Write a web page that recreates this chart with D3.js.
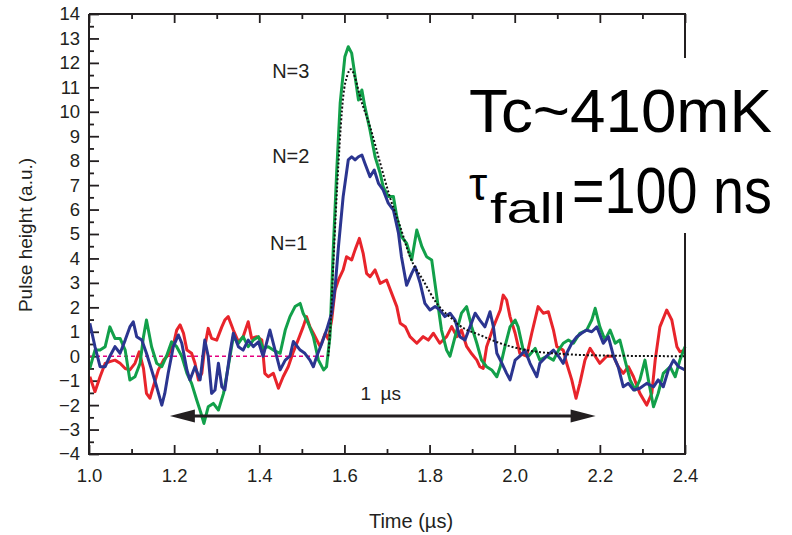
<!DOCTYPE html>
<html>
<head>
<meta charset="utf-8">
<script src="https://cdn.jsdelivr.net/npm/d3@7"></script>
<style>
  html, body { margin: 0; padding: 0; background: #fff; }
  svg { display: block; font-family: "Liberation Sans", Arial, Helvetica, sans-serif; }
</style>
</head>
<body>
<svg id="chart" width="792" height="535"></svg>
<script>
// Pulse traces: [time (µs), pulse height (a.u.)]
const traceN1 = [
  [1.002,-0.84],[1.014,-1.45],[1.026,-0.84],[1.038,-0.29],[1.049,-0.22],[1.061,-0.16],[1.073,-0.29],
  [1.085,-0.50],[1.096,-0.56],[1.108,-0.29],[1.118,0.18],[1.128,-0.50],[1.135,-1.52],[1.143,-1.72],
  [1.151,-1.25],[1.163,-0.56],[1.175,-0.16],[1.186,0.05],[1.198,0.46],[1.206,1.07],[1.214,1.28],
  [1.222,0.94],[1.230,0.25],[1.241,0.12],[1.249,-0.29],[1.257,-0.97],[1.265,-0.70],[1.272,0.39],
  [1.280,1.14],[1.288,0.73],[1.300,0.66],[1.312,1.20],[1.319,1.48],[1.327,1.62],[1.339,1.07],
  [1.351,0.59],[1.362,0.80],[1.374,1.41],[1.382,0.73],[1.394,0.80],[1.406,0.66],[1.413,-0.70],
  [1.421,-0.84],[1.433,-0.70],[1.445,-1.31],[1.456,-0.84],[1.468,-0.43],[1.480,0.18],[1.492,0.70],
  [1.503,1.20],[1.511,1.62],[1.519,1.20],[1.527,0.94],[1.543,0.39],[1.555,0.94],[1.562,0.70],
  [1.570,1.48],[1.578,2.71],[1.586,3.12],[1.597,3.53],[1.605,4.07],[1.617,3.94],[1.625,4.35],
  [1.635,4.82],[1.644,4.21],[1.652,3.39],[1.660,3.25],[1.672,3.53],[1.684,2.98],[1.699,3.12],
  [1.711,2.57],[1.723,2.03],[1.731,1.35],[1.743,1.21],[1.754,0.80],[1.770,0.53],[1.785,0.80],
  [1.797,0.66],[1.809,0.94],[1.824,0.53],[1.840,0.80],[1.852,1.21],[1.864,0.80],[1.875,1.07],
  [1.887,0.40],[1.899,0.10],[1.911,-0.16],[1.918,-0.43],[1.926,-0.50],[1.934,0.39],[1.950,1.20],
  [1.966,1.89],[1.973,2.50],[1.981,2.30],[1.989,1.62],[2.001,0.94],[2.012,0.12],[2.028,0.00],
  [2.040,0.94],[2.055,2.03],[2.067,1.76],[2.079,1.82],[2.091,1.07],[2.099,0.39],[2.114,0.25],
  [2.122,-0.29],[2.134,-0.97],[2.144,-1.72],[2.153,-1.11],[2.165,-0.16],[2.177,0.32],[2.189,0.00],
  [2.200,-0.29],[2.216,0.00],[2.232,0.00],[2.243,-0.43],[2.255,-0.70],[2.267,-0.43],[2.279,-0.84],
  [2.294,-1.52],[2.310,-2.00],[2.322,-1.52],[2.330,-0.16],[2.341,1.20],[2.357,1.89],[2.369,1.48],
  [2.381,0.39],[2.388,0.18],[2.400,0.25]
];

const traceN3 = [
  [1.002,-0.50],[1.014,0.25],[1.026,0.25],[1.038,0.39],[1.049,1.20],[1.061,0.73],[1.073,0.73],
  [1.085,0.25],[1.096,-0.97],[1.108,-0.84],[1.120,-0.29],[1.128,0.80],[1.135,1.48],[1.147,0.39],
  [1.159,-0.29],[1.171,-0.43],[1.182,0.00],[1.194,0.59],[1.206,0.39],[1.218,0.00],[1.230,-0.70],
  [1.241,-1.11],[1.253,-1.79],[1.262,-2.27],[1.270,-2.75],[1.280,-2.07],[1.292,-1.93],[1.304,-2.20],
  [1.316,-1.52],[1.327,-0.43],[1.339,0.80],[1.351,0.53],[1.362,0.80],[1.374,0.39],[1.386,0.66],
  [1.398,0.80],[1.409,0.32],[1.421,0.39],[1.433,0.25],[1.449,0.12],[1.461,1.07],[1.472,1.62],
  [1.484,2.03],[1.496,2.16],[1.503,1.76],[1.515,1.35],[1.527,0.80],[1.539,-0.16],[1.551,-0.56],
  [1.558,-0.43],[1.566,0.80],[1.574,4.48],[1.582,7.62],[1.590,10.35],[1.601,12.25],[1.609,12.66],
  [1.617,12.40],[1.625,11.44],[1.633,10.48],[1.641,10.89],[1.648,10.21],[1.660,9.26],[1.672,8.16],
  [1.684,7.48],[1.691,6.94],[1.703,6.53],[1.715,6.53],[1.723,5.71],[1.734,4.89],[1.746,4.62],
  [1.758,3.94],[1.770,5.16],[1.782,4.48],[1.793,4.07],[1.805,3.94],[1.817,2.43],[1.828,1.07],
  [1.840,0.25],[1.848,0.00],[1.860,0.80],[1.875,1.76],[1.887,2.03],[1.899,1.20],[1.911,0.53],
  [1.922,-0.16],[1.934,-0.43],[1.946,-0.56],[1.958,-0.84],[1.966,-0.43],[1.977,0.39],[1.989,1.20],
  [2.001,1.48],[2.008,1.20],[2.020,0.25],[2.032,0.00],[2.048,0.32],[2.059,-0.16],[2.075,0.00],
  [2.091,-0.16],[2.103,0.25],[2.114,0.53],[2.126,0.66],[2.138,0.53],[2.153,0.94],[2.169,1.07],
  [2.181,1.48],[2.189,1.96],[2.200,1.20],[2.212,0.66],[2.224,1.07],[2.236,0.53],[2.247,0.66],
  [2.259,-0.16],[2.271,-0.97],[2.283,-1.38],[2.294,-0.97],[2.306,-0.16],[2.314,-0.97],[2.326,-2.07],
  [2.337,-1.52],[2.349,-0.70],[2.365,-0.43],[2.377,-0.84],[2.388,-0.16],[2.400,0.39]
];

const traceN2 = [
  [1.002,1.35],[1.014,0.39],[1.026,-0.43],[1.038,-0.43],[1.049,0.00],[1.061,0.39],[1.073,0.12],
  [1.085,0.66],[1.096,1.20],[1.104,1.41],[1.112,0.80],[1.124,0.66],[1.135,0.12],[1.147,-0.56],
  [1.159,-1.25],[1.171,-2.00],[1.178,-1.52],[1.186,-0.70],[1.198,0.39],[1.210,0.87],[1.218,0.53],
  [1.230,-0.56],[1.237,-0.97],[1.249,-0.43],[1.261,-0.97],[1.272,0.66],[1.280,0.00],[1.288,-1.52],
  [1.296,-1.38],[1.304,-0.29],[1.312,-1.25],[1.319,-1.38],[1.331,0.12],[1.339,0.94],[1.351,0.39],
  [1.362,0.25],[1.374,0.66],[1.386,0.39],[1.398,0.59],[1.409,0.00],[1.425,1.07],[1.437,0.25],
  [1.449,-0.56],[1.461,-0.16],[1.472,0.00],[1.480,0.60],[1.496,0.25],[1.507,0.12],[1.519,-0.16],
  [1.527,-0.43],[1.535,0.00],[1.547,0.53],[1.558,1.07],[1.570,1.76],[1.578,2.80],[1.586,4.48],
  [1.597,6.53],[1.609,8.03],[1.617,8.16],[1.625,8.03],[1.633,8.16],[1.641,8.23],[1.648,7.89],
  [1.660,7.34],[1.670,7.62],[1.680,7.07],[1.691,6.80],[1.703,6.26],[1.715,5.98],[1.727,5.03],
  [1.734,4.07],[1.746,2.90],[1.758,3.39],[1.766,3.66],[1.778,2.98],[1.789,2.16],[1.801,1.89],
  [1.813,2.03],[1.824,1.90],[1.836,1.62],[1.848,1.76],[1.860,1.48],[1.871,0.80],[1.883,0.66],
  [1.895,1.20],[1.907,1.76],[1.918,1.48],[1.930,1.20],[1.942,1.82],[1.950,1.20],[1.958,0.12],
  [1.970,-0.29],[1.981,-0.70],[1.989,-0.97],[2.001,-0.16],[2.012,0.00],[2.024,0.25],[2.036,-0.29],
  [2.052,-0.84],[2.059,-0.29],[2.075,0.00],[2.091,0.25],[2.103,0.00],[2.114,-0.29],[2.122,0.12],
  [2.134,0.53],[2.146,0.80],[2.157,0.94],[2.169,1.07],[2.181,1.00],[2.193,1.20],[2.208,0.53],
  [2.220,0.80],[2.232,0.00],[2.243,-0.43],[2.255,-1.25],[2.267,-1.11],[2.279,-1.38],[2.294,-1.31],
  [2.310,-1.11],[2.326,-1.25],[2.337,-0.97],[2.349,-1.25],[2.361,-0.56],[2.373,-0.16],[2.385,-0.43],
  [2.400,-0.56]
];

// Fitted pulse shape (dotted) and pre-pulse baseline (dashed)
const fitCurve = [
  [1.562,0.00],[1.568,1.50],[1.574,3.80],[1.586,7.90],[1.597,10.60],[1.607,11.50],[1.615,11.74],
  [1.625,11.40],[1.637,10.60],[1.660,9.40],[1.684,7.90],[1.707,6.50],[1.731,5.30],[1.754,4.07],
  [1.785,3.10],[1.817,2.16],[1.856,1.48],[1.871,1.25],[1.918,0.87],[1.966,0.53],[2.028,0.25],
  [2.114,0.09],[2.200,0.03],[2.300,0.01],[2.400,0.00]
];
const baseline = [[1.0,0],[1.562,0]];

// Axis ticks
const xMajorTicks = [1.0,1.2,1.4,1.6,1.8,2.0,2.2,2.4];
const xMinorTicks = [1.1,1.3,1.5,1.7,1.9,2.1,2.3];
const yMajorTicks = [-4,-3,-2,-1,0,1,2,3,4,5,6,7,8,9,10,11,12,13,14];
const yMinorTicks = d3.range(-3.5,14,1);

// Annotations
const pulseLabels = [
  {text:"N=3", t:1.474, v:11.38},
  {text:"N=2", t:1.474, v:7.90},
  {text:"N=1", t:1.469, v:4.34}
];
const spanArrow = {start:1.19, length:1.0, v:-2.45, label:"1\u2002\u00b5s", labelV:-1.79};

const ink = "#231f20";
const svg = d3.select("#chart");
const x = d3.scaleLinear().domain([1.0, 2.4]).range([89, 685]);
const y = d3.scaleLinear().domain([-4, 14]).range([454, 14]);

// inward tick marks
function addAxis(gen, transform, values, size, labels) {
  const g = svg.append("g").attr("transform", transform)
    .call(gen.tickValues(values).tickSize(-size).tickPadding(labels ? labels.pad : 0)
      .tickFormat(labels ? labels.fmt : () => ""));
  g.select(".domain").remove();
  g.selectAll(".tick line").attr("stroke", ink).attr("stroke-width", 1.8);
  g.selectAll(".tick text").attr("fill", ink).style("font-size", "18.5px");
  return g;
}
const minus = s => s.replace("-", "\u2212");
addAxis(d3.axisBottom(x), "translate(0,454)", xMajorTicks, 9, {pad:15, fmt: d3.format(".1f")});
addAxis(d3.axisBottom(x), "translate(0,454)", xMinorTicks, 5);
addAxis(d3.axisTop(x), "translate(0,14)", xMajorTicks, 9);
addAxis(d3.axisTop(x), "translate(0,14)", xMinorTicks, 5);
addAxis(d3.axisLeft(y), "translate(89,0)", yMajorTicks, 10, {pad:9, fmt: d => minus(String(d))});
addAxis(d3.axisLeft(y), "translate(89,0)", yMinorTicks, 5);

// traces
const line = d3.line().x(d => x(d[0])).y(d => y(d[1]));
svg.append("path").datum(baseline).attr("d", line)
  .attr("fill","none").attr("stroke","#e4007f").attr("stroke-width",1.5).attr("stroke-dasharray","4,3");

const traces = [
  {data: traceN1, color: "#e8242b"},
  {data: traceN3, color: "#12a04a"},
  {data: traceN2, color: "#2b3590"}
];
traces.forEach(s => {
  svg.append("path").datum(s.data).attr("d", line)
    .attr("fill","none").attr("stroke", s.color).attr("stroke-width", 3)
    .attr("stroke-linejoin","round");
});

svg.append("path").datum(fitCurve)
  .attr("d", d3.line().x(d => x(d[0])).y(d => y(d[1])).curve(d3.curveMonotoneX))
  .attr("fill","none").attr("stroke","#111").attr("stroke-width",2)
  .attr("stroke-dasharray","2,2");

// frame
const frame = svg.append("g").attr("stroke", ink).attr("stroke-width", 2).attr("fill","none");
frame.append("path").attr("d", `M${x(1.0)},${y(14)}V${y(-4)}H${x(2.4)}V${y(14)}H${x(1.0)}`);

// span arrow
const ay = y(spanArrow.v), ax0 = x(spanArrow.start), ax1 = x(spanArrow.start + spanArrow.length);
const headL = 25, headW = 6.5;
svg.append("line").attr("x1", ax0 + headL - 2).attr("x2", ax1 - headL + 2).attr("y1", ay).attr("y2", ay)
  .attr("stroke", ink).attr("stroke-width", 3);
svg.append("path").attr("d", `M${ax0},${ay}L${ax0+headL},${ay-headW}L${ax0+headL},${ay+headW}Z`).attr("fill", ink);
svg.append("path").attr("d", `M${ax1},${ay}L${ax1-headL},${ay-headW}L${ax1-headL},${ay+headW}Z`).attr("fill", ink);
svg.append("text").attr("x", x(spanArrow.start + spanArrow.length/2) - 2).attr("y", y(spanArrow.labelV))
  .attr("text-anchor","middle").attr("fill", ink).style("font-size","19px").text(spanArrow.label);

// pulse labels
pulseLabels.forEach(p => {
  svg.append("text").attr("x", x(p.t)).attr("y", y(p.v)).attr("text-anchor","middle")
    .attr("fill", ink).style("font-size","20px").text(p.text);
});

// axis titles
svg.append("text").attr("transform", "translate(32,235) rotate(-90)").attr("text-anchor","middle")
  .attr("fill", ink).style("font-size","19px").text("Pulse height (a.u.)");
svg.append("text").attr("x", 411).attr("y", 528).attr("text-anchor","middle")
  .attr("fill", ink).style("font-size","20px").text("Time (\u00b5s)");

// parameter box
svg.append("rect").attr("x", 458).attr("y", 58).attr("width", 334).attr("height", 175).attr("fill", "#fff");
svg.append("text").attr("x", 469).attr("y", 132).attr("fill", "#000")
  .attr("textLength", 303).attr("lengthAdjust", "spacingAndGlyphs")
  .style("font-size","61px").text("Tc~410mK");
svg.append("text").attr("x", 469).attr("y", 200).attr("fill", "#000")
  .style("font-size","46px").text("\u03c4");
svg.append("text").attr("x", 490).attr("y", 223).attr("fill", "#000")
  .attr("textLength", 76).attr("lengthAdjust", "spacingAndGlyphs")
  .style("font-size","42px").text("fall");
svg.append("text").attr("x", 572).attr("y", 213).attr("fill", "#000")
  .attr("textLength", 200).attr("lengthAdjust", "spacingAndGlyphs")
  .style("font-size","64px").text("=100 ns");
</script>
</body>
</html>
